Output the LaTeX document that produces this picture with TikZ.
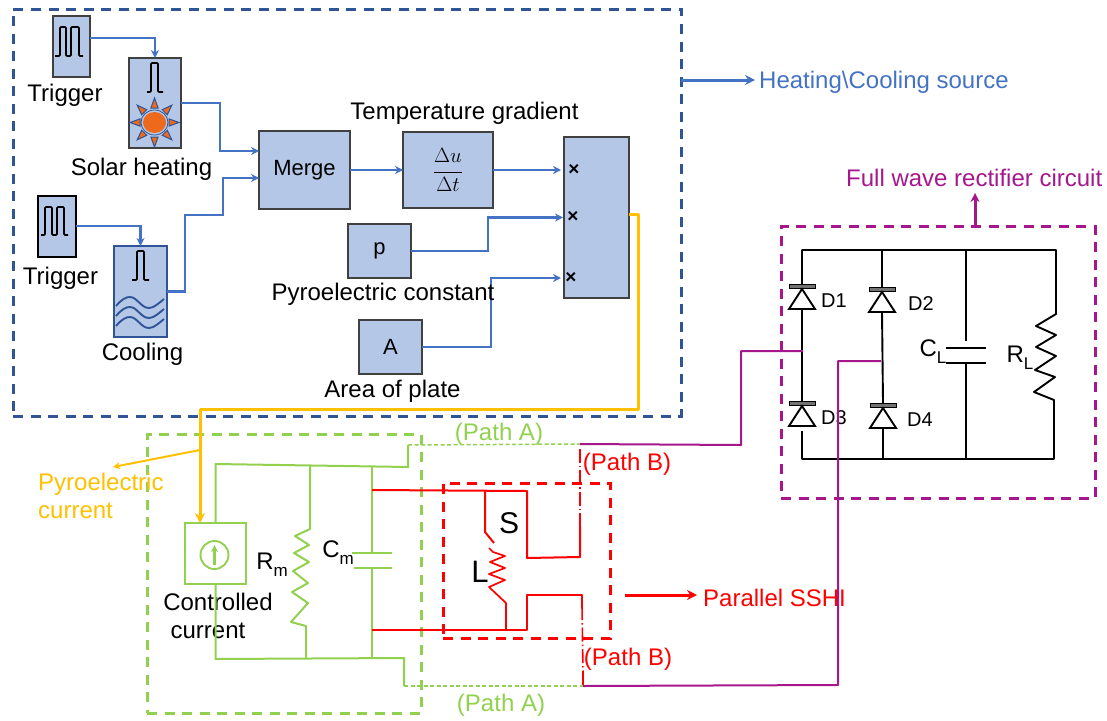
\documentclass[tikz,border=0pt]{standalone}
\usepackage{fontspec}
\setmainfont{Liberation Sans}
\usetikzlibrary{arrows.meta}
\definecolor{boxfill}{HTML}{B4C7E7}
\definecolor{wireblue}{HTML}{4472C4}
\definecolor{navy}{HTML}{2F5597}
\definecolor{ygold}{HTML}{FFC000}
\definecolor{lgreen}{HTML}{92D050}
\definecolor{purp}{HTML}{A6168C}
\definecolor{sunor}{HTML}{ED6A1C}
\newcommand\sbs[1]{\raisebox{-0.3em}{\fontsize{17}{17}\selectfont #1}}
\tikzset{
  x=1pt,y=-1pt,
  fblock/.style={draw=black!75,line width=1.3pt,fill=boxfill,inner sep=0,outer sep=0},
  lab/.style={font=\fontsize{24}{27}\selectfont,inner sep=0,text=black,align=center},
  smalllab/.style={font=\fontsize{20}{23}\selectfont,inner sep=0,text=black},
  blocktxt/.style={font=\fontsize{22}{25}\selectfont},
  tipped/.style={-{Stealth[length=#1,width=#1]}},
  bwire/.style={draw=wireblue,line width=2.2pt},
  barrow/.style={bwire,tipped=8pt},
  container/.style={inner sep=0,outer sep=0,anchor=north west,line width=3pt,dash pattern=on 10pt off 7.5pt},
  gw/.style={draw=lgreen,line width=2pt,line join=round},
  gthin/.style={draw=lgreen,line width=1.5pt,dash pattern=on 4pt off 2.5pt},
  rw/.style={draw=red,line width=2pt,line join=round},
  rdd/.style={draw=red,line width=1.6pt,dash pattern=on 14pt off 3pt on 1.5pt off 3pt},
  pw/.style={draw=purp,line width=2pt,line join=round},
  kw/.style={draw=black,line width=1.9pt,line join=round},
  pulse/.style={draw=black,line width=1.7pt,rounded corners=1pt},
  ray/.style={fill=sunor,draw=navy,line width=1pt},
}
\begin{document}
\begin{tikzpicture}
\useasboundingbox (0,0) rectangle (1107,720);
% containers
\node[container,draw=navy,minimum width=668pt,minimum height=407pt] (heatbox) at (13,9) {};
\node[container,draw=lgreen,minimum width=274pt,minimum height=279pt] (pathbox) at (147,434) {};
\node[container,draw=red,minimum width=167pt,minimum height=155pt] (sshibox) at (443,483) {};
\node[container,draw=purp,minimum width=314pt,minimum height=272pt] (rectbox) at (781,226) {};
% blocks
\node[fblock,minimum width=37pt,minimum height=61pt] (trig1) at (71.5,46.5) {};
\node[fblock,minimum width=52pt,minimum height=90pt] (solar) at (155,103) {};
\node[fblock,draw=black,minimum width=38pt,minimum height=61pt] (trig2) at (57,226.5) {};
\node[fblock,draw=navy,minimum width=53pt,minimum height=91pt] (cool) at (140.5,291.5) {};
\node[fblock,blocktxt,minimum width=91pt,minimum height=78pt] (merge) at (304.5,170) {Merge};
\node[fblock,font=\fontsize{20}{24}\selectfont,minimum width=90pt,minimum height=76pt] (delta) at (448,170) {$\displaystyle\frac{\Delta u}{\Delta t}$};
\node[fblock,blocktxt,minimum width=63pt,minimum height=54pt] (pblk) at (379.5,251) {p};
\node[fblock,blocktxt,minimum width=63pt,minimum height=54pt] (ablk) at (390.5,347) {A};
\node[fblock,minimum width=65pt,minimum height=161pt] (prod) at (596.5,217.5) {};
% product marks
\node[font=\fontsize{19}{19}\selectfont\bfseries,inner sep=0] (m1) at (574,170) {×};
\node[font=\fontsize{19}{19}\selectfont\bfseries,inner sep=0] (m2) at (573,217) {×};
\node[font=\fontsize{19}{19}\selectfont\bfseries,inner sep=0] (m3) at (571,278) {×};
% pulses
\draw[pulse] (55,56)--(60,56)--(60,27)--(66,27)--(66,56)--(71,56)--(71,27)--(79,27)--(79,56)--(83,56);
\draw[pulse] (41,235)--(45,235)--(45,207)--(52,207)--(52,235)--(57,235)--(57,207)--(64,207)--(64,235)--(68,235);
\draw[pulse] (147,92)--(151,92)--(151,63)--(158,63)--(158,92)--(163,92);
\draw[pulse] (132,280)--(137,280)--(137,251)--(144,251)--(144,280)--(149,280);
% sun
\begin{scope}[shift={(154.5,122.5)}]
  \foreach \a in {0,45,...,315}{
    \begin{scope}[rotate=\a]
      \fill[ray] (14.5,-3.6)--(24.5,0)--(14.5,3.6)--cycle;
    \end{scope}}
  \draw[draw=navy,line width=.8pt] (0,0) ellipse (13.5pt and 12.5pt);
  \fill[sunor] (0,0) ellipse (11.5pt and 10.5pt);
\end{scope}
% waves
\foreach \d in {0,10,20}{
  \draw[draw=navy,line width=1.9pt,yshift=-\d pt] (116,306) .. controls (122,299) and (126,297) .. (130,297) .. controls (137,297) and (141,308) .. (149,308) .. controls (154,308) and (159,303) .. (164,299);
}
% block connectors
\draw[barrow] ([yshift=8.5pt]trig1.east) -| (solar.north);
\draw[barrow] ([yshift=.5pt]trig2.east) -| (cool.north);
\draw[barrow] (solar.east) -- ++(39,0) |- ([yshift=19pt]merge.west);
\draw[barrow] (cool.east) -- ++(18,0) |- (223,215) |- ([yshift=-8pt]merge.west);
\draw[barrow] (merge.east) -- (delta.west);
\draw[barrow] (delta.east) -- ([yshift=47.5pt,xshift=-3pt]prod.west);
\draw[barrow] (pblk.east) -- ++(77,0) |- ([xshift=-1pt]prod.west);
\draw[barrow] (ablk.east) -- ++(69,0) |- ([yshift=-60.5pt,xshift=-3pt]prod.west);
% heating output
\node[inner sep=0,font=\fontsize{24}{27}\selectfont,text=wireblue,anchor=west] (heatlab) at (759,82) {Heating\textbackslash Cooling source};
\draw[bwire,line width=3pt,tipped=10pt] (heatbox.east|-heatlab) ++(0,-2) -- ++(74,0);
% block labels
\node[lab] (l1) at (65,95) {Trigger};
\node[lab] (l2) at (141.5,169) {Solar heating};
\node[lab] (l3) at (60.5,278) {Trigger};
\node[lab] (l4) at (142.5,354) {Cooling};
\node[lab] (l5) at (464.5,113) {Temperature gradient};
\node[lab] (l6) at (383,294) {Pyroelectric constant};
\node[lab] (l7) at (392.5,391) {Area of plate};
% controlled source
\node[draw=lgreen,line width=1.5pt,minimum width=61pt,minimum height=61pt,inner sep=0,outer sep=0] (src) at (215.5,553.5) {};
\node[circle,draw=lgreen,line width=1.9pt,minimum size=28pt,inner sep=0] (srcc) at (214.5,555) {};
\draw[lgreen,line width=2.2pt,tipped=7pt] (srcc.south)++(0,-5) -- ([yshift=-5pt]srcc.north);
\node[lab] (l8) at (218,602) {Controlled};
\node[lab] (l9) at (208,631) {current};
% yellow
\coordinate (yb) at (200,450);
\coordinate (yarr) at (113,467);
\draw[draw=ygold,line width=3pt,line join=round,tipped=10pt] ([yshift=3.5pt]prod.east) -- ++(9,0) |- (200,409) -- ([xshift=-15.5pt]src.north);
\draw[draw=ygold,line width=2pt,tipped=7pt] (yb) -- (yarr);
\node[inner sep=0,font=\fontsize{24}{28}\selectfont,text=ygold,align=left,anchor=north west] (pyro) at (38,473) {Pyroelectric\\current};
% green circuit
\coordinate (gtl) at (408,467);
\coordinate (gA) at (580,444);
\coordinate (gbl) at (404,658);
\coordinate (gB) at (583,686);
\draw[gw] (src.north) |- (215.5,464) -- (gtl) -- (408,445);
\draw[gw] (src.south) -- (215.5,659) -- (gbl) -- (404,686);
\draw[gthin] (408,445) -- (gA);
\draw[gthin] (404,686) -- (gB);
\draw[gw] (310,465.5) -- (310,529) -- (295,536) -- (309,545) -- (294,553) -- (309,562) -- (293,571) -- (308,583) -- (292,592) -- (308,603) -- (291,622) -- (306,626) -- (306,659);
\draw[gw] (372,466) -- (372,553);
\draw[gw] (352,553) -- (392,553);
\draw[gw] (354,568) -- (392,568);
\draw[gw] (372,568) -- (372,659);
\node[lab] (rm) at (272,565) {R\sbs{m}};
\node[lab] (cm) at (338,553) {C\sbs{m}};
% red circuit
\draw[rw] (372,490) -- (527,491) -- (527,558) -- (580,557) -- (580,527);
\draw[rdd] (580,527) -- (580,446);
\draw[rw] (372,630) -- (527,630) -- (527,595) -- (582,595) -- (582,606);
\draw[rdd] (582,606) -- (583,673);
\draw[rw] (583,673) -- (583,685);
\draw[rw] (485,491) -- (485,532) -- (494,543);
\draw[rw,line width=1.7pt] (489,548) -- (493,552) -- (505,556) -- (490,562) -- (505,568) -- (489,574) -- (505,580) -- (489,587) -- (506,603) -- (506,630);
\node[lab,font=\fontsize{31}{34}\selectfont] (lL) at (480,572) {L};
\node[lab,font=\fontsize{30}{33}\selectfont] (lS) at (509,523) {S};
\draw[draw=red,line width=3pt,tipped=10pt] (625,595) -- (697,595);
\node[inner sep=0,font=\fontsize{24}{27}\selectfont,text=red,anchor=west] (sshi) at (703,598) {Parallel SSHI};
% path labels
\node[inner sep=0,font=\fontsize{24}{27}\selectfont,text=lgreen] (pa1) at (499,434) {(Path A)};
\node[inner sep=0,font=\fontsize{24}{27}\selectfont,text=lgreen] (pa2) at (501,705) {(Path A)};
\node[inner sep=0,font=\fontsize{24}{27}\selectfont,text=red] (pb1) at (627,464) {(Path B)};
\node[inner sep=0,font=\fontsize{24}{27}\selectfont,text=red] (pb2) at (628,659) {(Path B)};
% rectifier
\draw[kw] (802,284) -- (802,250) -- (1056,250) -- (1056,314) -- (1036,326) -- (1056,335) -- (1036,347) -- (1056,356) -- (1035,370) -- (1055,377) -- (1034,392) -- (1054,400) -- (1054,459) -- (802,459) -- (802,431);
\draw[kw] (802,309) -- (802,401);
\draw[kw] (882,250) -- (882,287);
\draw[kw] (882,312) -- (883,403);
\draw[kw] (883,429) -- (883,459);
\foreach \x/\b in {802/286,882/289,802/403,883/405}{
  \draw[draw=black,fill=black!55,line width=1pt] (\x-13,\b-2) rectangle (\x+13,\b+2);
  \draw[draw=black,line width=1.9pt,line join=miter] (\x,\b+3) -- (\x-13,\b+23) -- (\x+13,\b+23) -- cycle;
}
\draw[kw] (966,250) -- (966,341);
\draw[kw] (946,348) -- (986,348);
\draw[kw] (946,363) -- (986,363);
\draw[kw] (966,363) -- (966,459);
\node[smalllab] (d1) at (834,301) {D1};
\node[smalllab] (d2) at (921,304) {D2};
\node[smalllab] (d3) at (834,418) {D3};
\node[smalllab] (d4) at (920,420) {D4};
\node[lab] (cl) at (933,352) {C\sbs{L}};
\node[lab] (rl) at (1020,358) {R\sbs{L}};
% rectifier links
\coordinate (j1) at (803,351);
\coordinate (j2) at (881,361);
\draw[pw] (gA) -- (741,445) -- (741,351) -- (j1);
\draw[pw] (gB) -- (838,685) |- (j2);
\coordinate (fwtop) at (975,193);
\draw[draw=purp,line width=3pt,tipped=9pt] (975,226) -- (fwtop);
\node[inner sep=0,font=\fontsize{24}{27}\selectfont,text=purp,anchor=west] (fw) at (846,178) {Full wave rectifier circuit};
\end{tikzpicture}
\end{document}
